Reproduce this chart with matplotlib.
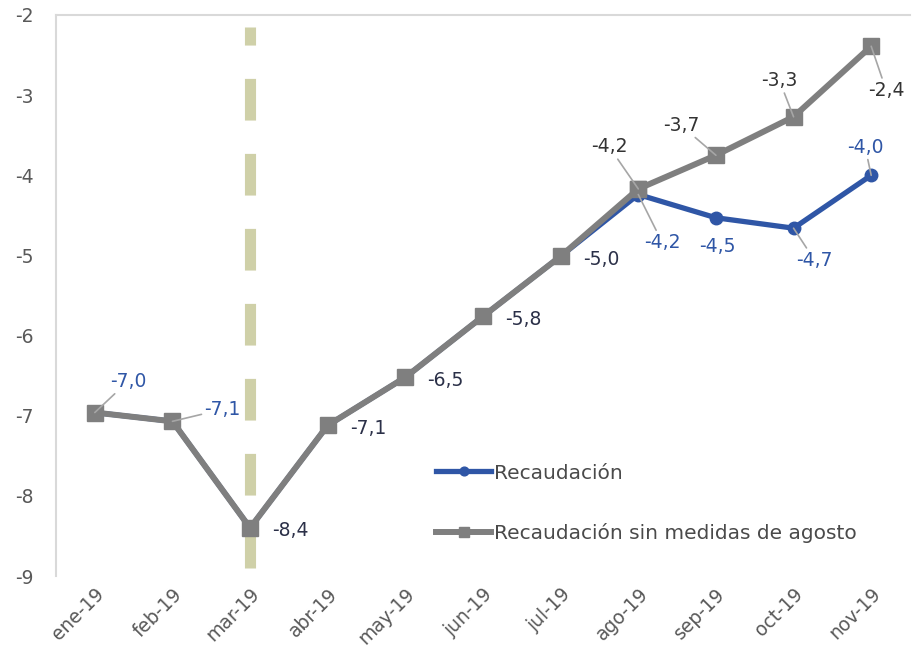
import matplotlib
matplotlib.use("Agg")
import matplotlib.pyplot as plt

plt.rcParams['font.family'] = ['DejaVu Sans']
plt.rcParams['lines.scale_dashes'] = False

meses = ["ene-19", "feb-19", "mar-19", "abr-19", "may-19", "jun-19",
         "jul-19", "ago-19", "sep-19", "oct-19", "nov-19"]
recaudacion = [-6.96, -7.07, -8.40, -7.12, -6.52, -5.76, -5.01, -4.24, -4.53, -4.66, -4.00]
sin_medidas = [-6.96, -7.07, -8.40, -7.12, -6.52, -5.76, -5.01, -4.17, -3.75, -3.27, -2.39]
etiquetas_azul = ["-7,0", "-7,1", "-8,4", "-7,1", "-6,5", "-5,8", "-5,0", "-4,2", "-4,5", "-4,7", "-4,0"]
etiquetas_gris = ["-4,2", "-3,7", "-3,3", "-2,4"]

azul = "#2f56a6"
gris = "#7f7f7f"
oscuro = "#2b3048"

fig = plt.figure(figsize=(9.18, 6.55), dpi=100)
ax = fig.add_axes([0.061, 0.1206, 0.9303, 0.8565])
x = list(range(len(meses)))

# linea vertical en marzo
ax.plot([2, 2], [-2.15, -8.9], color="#cfd0a8", lw=8, solid_capstyle="butt",
        linestyle=(17, (30, 24)), zorder=1)

ax.plot(x, recaudacion, color=azul, lw=3.8, marker="o", ms=9, label="Recaudación", zorder=3)
ax.plot(x[:8], sin_medidas[:8], color=gris, lw=4.3, marker="s", ms=11, zorder=4)
ax.plot(x[7:], sin_medidas[7:], color=gris, lw=4.3, marker="s", ms=11, zorder=2)
ax.plot([], [], color=gris, lw=4.3, marker="s", ms=11, label="Recaudación sin medidas de agosto")

lider = dict(arrowstyle="-", color="#a6a6a6", lw=1.2, shrinkA=0, shrinkB=0)
fs = 13.5

# etiquetas serie azul (desplazamiento en pixeles)
pos_azul = [(33, 31, True), (50, 12, True), (0, 0, False), (0, 0, False), (0, 0, False),
            (0, 0, False), (0, 0, False), (24, -48, True), (1, -29, False), (21, -32, True), (-6, 28, True)]
for i, (dx, dy, con_linea) in enumerate(pos_azul):
    col = azul if i < 2 or i > 6 else oscuro
    if 2 <= i <= 6:
        ax.annotate(etiquetas_azul[i], (x[i], recaudacion[i]), xytext=(22, -3),
                    textcoords="offset pixels", ha="left", va="center",
                    fontsize=fs, color=col, zorder=6)
        continue
    ax.annotate(etiquetas_azul[i], (x[i], recaudacion[i]), xytext=(dx, dy),
                textcoords="offset pixels", ha="center", va="center", fontsize=fs,
                color=col, zorder=6,
                arrowprops=lider if con_linea else None)

# etiquetas serie gris
pos_gris = [(-29, 42), (-35, 30), (-14, 36), (15, -44)]
for j, (dx, dy) in enumerate(pos_gris):
    i = 7 + j
    ax.annotate(etiquetas_gris[j], (x[i], sin_medidas[i]), xytext=(dx, dy),
                textcoords="offset pixels", ha="center", va="center", fontsize=fs,
                color="#333333", zorder=6, arrowprops=lider)

ax.set_xlim(-0.5, 10.5)
ax.set_ylim(-9, -2)
ax.set_yticks(range(-9, -1))
ax.set_yticklabels([str(v) for v in range(-9, -1)])
ax.set_xticks(x)
ax.set_xticklabels(meses, rotation=45, ha="right", rotation_mode="anchor")
ax.tick_params(axis="both", length=0, labelsize=fs, labelcolor="#595959")
ax.tick_params(axis="y", pad=16)
ax.tick_params(axis="x", pad=6)

for s in ["right", "bottom"]:
    ax.spines[s].set_visible(False)
for s in ["top", "left"]:
    ax.spines[s].set_color("#d9d9d9")
    ax.spines[s].set_linewidth(1.5)

ax.legend(loc="upper left", bbox_to_anchor=(0.455, 0.32), bbox_transform=fig.transFigure,
          frameon=False, fontsize=14.5, handlelength=2.75, handletextpad=0.15,
          labelspacing=2.0, labelcolor="#4a4a4a", markerscale=0.7)

fig.savefig("out.png", dpi=100)
